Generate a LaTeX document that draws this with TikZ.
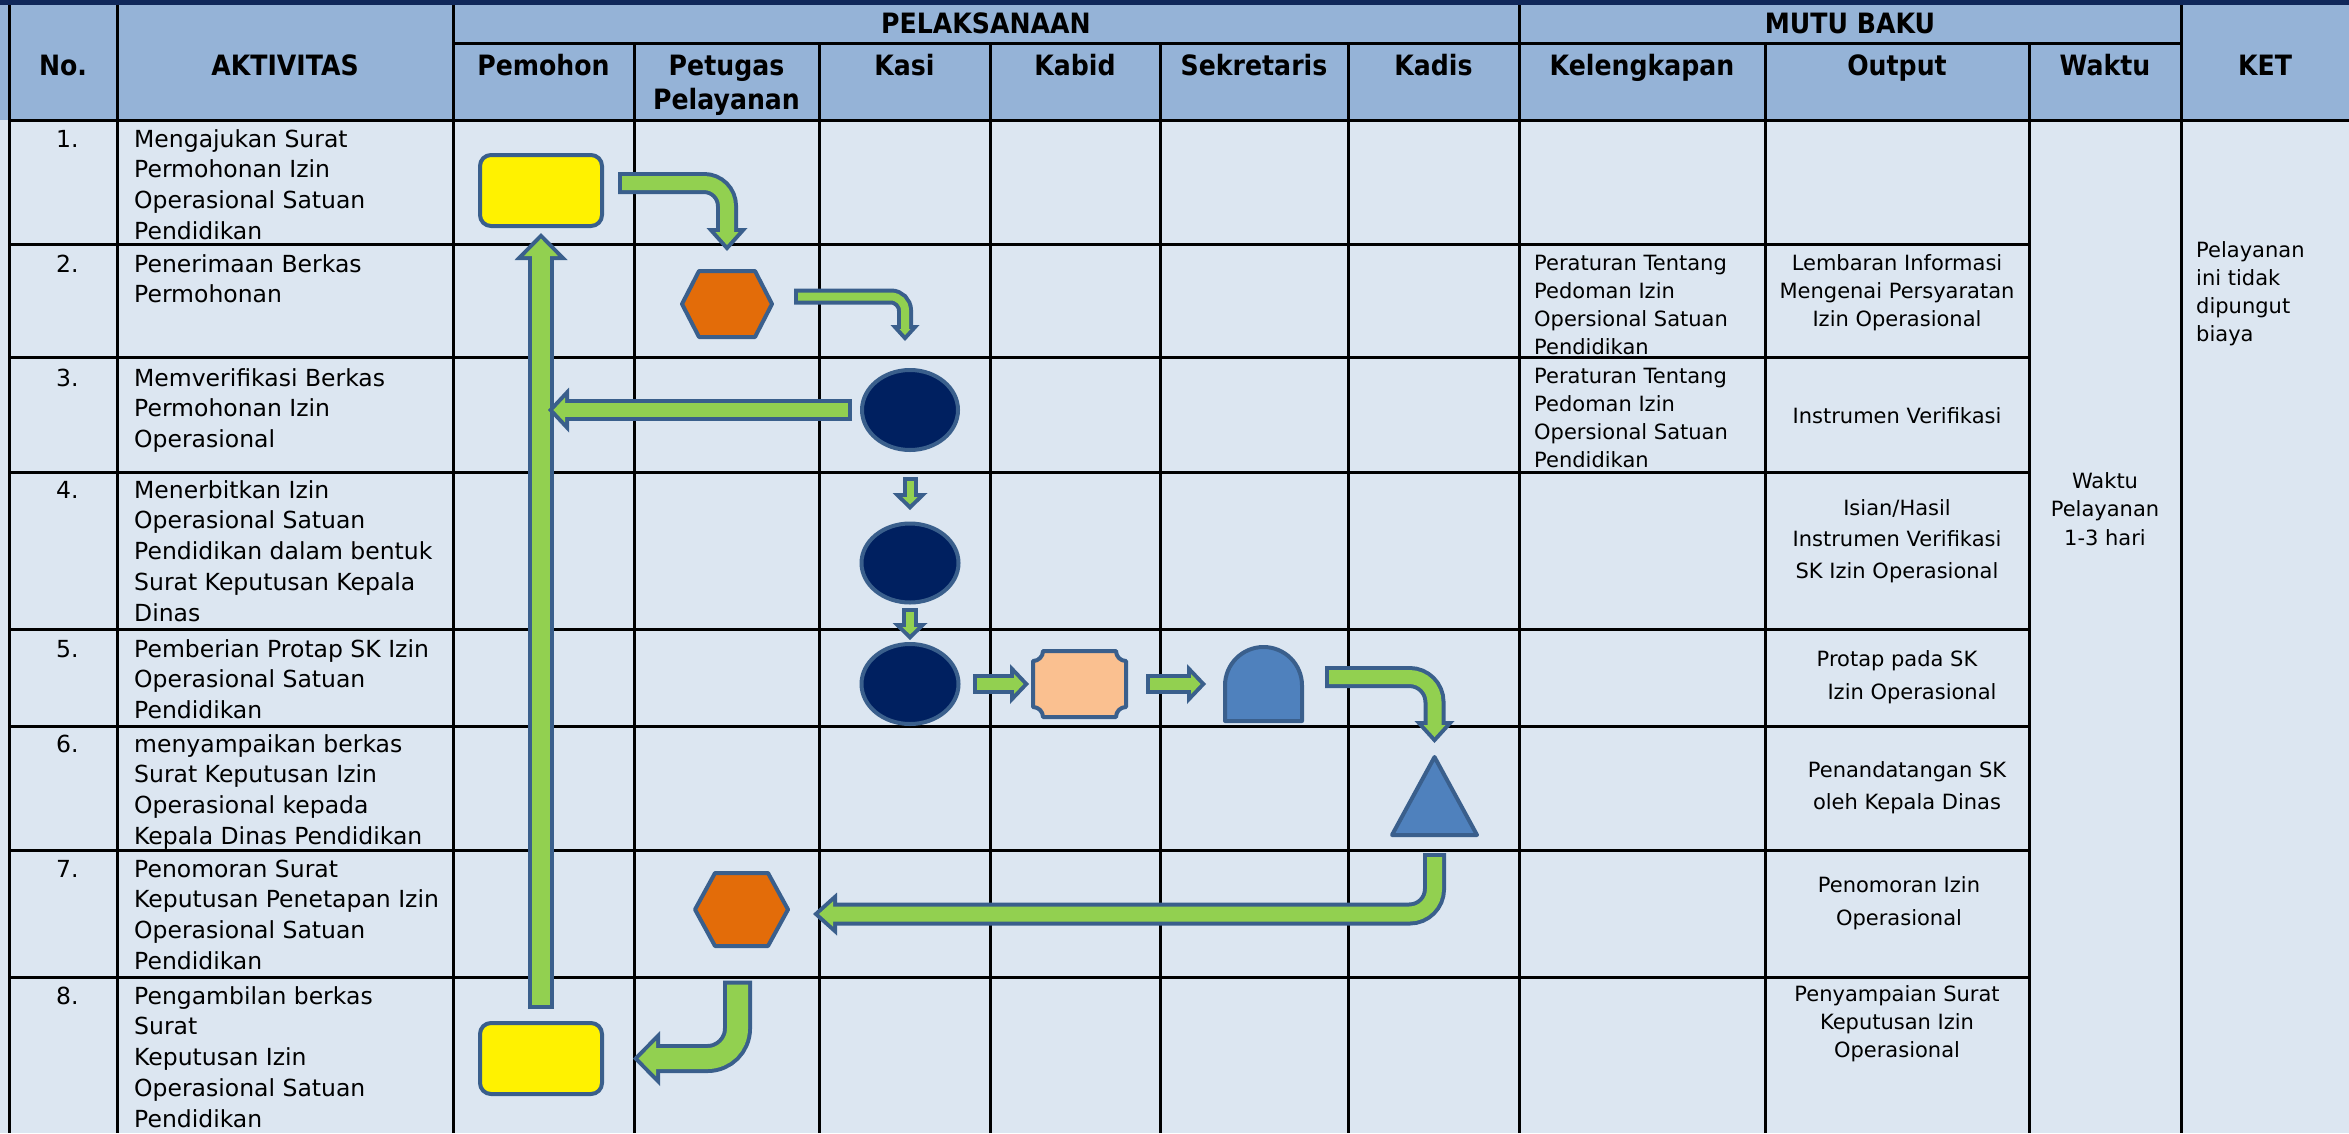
\documentclass[tikz,border=0pt]{standalone}
\usepackage{fontspec}
\setmainfont{DejaVu Sans}
\newfontfamily\headfont[FakeStretch=0.9]{DejaVu Sans}
\usetikzlibrary{arrows.meta,shapes.geometric}

\definecolor{headblue}{HTML}{95B3D7}
\definecolor{bodyblue}{HTML}{DCE6F1}
\definecolor{topnavy}{HTML}{10285A}
\definecolor{edgeblue}{HTML}{3A5F8C}
\definecolor{flowgreen}{HTML}{92D050}
\definecolor{navyfill}{HTML}{002060}
\definecolor{hexorange}{HTML}{E36C09}
\definecolor{peach}{HTML}{FAC090}
\definecolor{midblue}{HTML}{4F81BD}

\tikzstyle{tline} = [line width=3pt, black]
\tikzstyle{blk} = [line width=4pt, draw=edgeblue, line join=round]
\tikzstyle{cellbox} = [rectangle, inner sep=0pt, outer sep=0pt]
\tikzstyle{hdtext} = [font=\headfont\fontsize{28}{34}\selectfont\bfseries, inner sep=0pt, align=center, anchor=north]
\tikzstyle{actext} = [font=\fontsize{23.5}{30.7}\selectfont, inner sep=0pt, align=left, anchor=north west]
\tikzstyle{smtext} = [font=\fontsize{21}{28}\selectfont, inner sep=0pt, align=center, anchor=north]

% outlined block arrow: shaft width, head width, head length, corner radius, path
\newcommand{\blockflow}[5]{%
  \pgfmathsetmacro{\flowiw}{#1-8}%
  \pgfmathsetmacro{\flowtip}{4*sqrt((#2/2)^2+(#3)^2)/(#2/2)}%
  \pgfmathsetmacro{\flowil}{#3-\flowtip-4}%
  \pgfmathsetmacro{\flowih}{\flowil*#2/#3}%
  \draw[edgeblue, line width=#1pt, rounded corners=#4pt,
    -{Triangle[length=#3pt, width=#2pt, line width=0pt]}] #5;
  \draw[flowgreen, line width=\flowiw pt, rounded corners=#4pt,
    shorten <=4pt, shorten >=\flowtip pt,
    -{Triangle[length=\flowil pt, width=\flowih pt, line width=0pt]}] #5;
}

\begin{document}
\begin{tikzpicture}[x=1pt,y=-1pt]
\useasboundingbox (0,0) rectangle (2349,1133);
% background
\fill[bodyblue] (0,0) rectangle (2349,1133);
\fill[headblue] (0,5) rectangle (2349,120);
\fill[topnavy] (0,0) rectangle (2349,5);

% table lines
\draw[tline] (453,43) -- (2181,43);
\draw[tline] (9,120) -- (2349,120);
\foreach \y in {244,357,472,629,726,850,977}
  \draw[tline] (9,\y) -- (2029,\y);
\foreach \x in {9,117,453,1519,2181}
  \draw[tline] (\x,5) -- (\x,1133);
\foreach \x in {634,819,990,1160,1348,1765,2029}
  \draw[tline] (\x,43) -- (\x,1133);

% header
\node[hdtext] (hno) at (63,51.2) {\strut No.};
\node[hdtext] (hakt) at (285,51.2) {\strut AKTIVITAS};
\node[hdtext] (hpel) at (986,9.2) {\strut PELAKSANAAN};
\node[hdtext] (hmutu) at (1850,9.2) {\strut MUTU BAKU};
\foreach \x/\txt [count=\i] in {543.5/Pemohon, 726.5/{Petugas\\Pelayanan}, 904.5/Kasi,
    1075/Kabid, 1254/Sekretaris, 1433.5/Kadis, 1642/Kelengkapan, 1897/Output,
    2105/Waktu, 2265/KET}
  \node[hdtext] (hcol\i) at (\x,51.2) {\strut\txt};

% rows
\foreach \n/\y/\txt in {
  1/147/{Mengajukan Surat\\Permohonan Izin\\Operasional Satuan\\Pendidikan},
  2/272/{Penerimaan Berkas\\Permohonan},
  3/386/{Memverifikasi Berkas\\Permohonan Izin\\Operasional},
  4/498/{Menerbitkan Izin\\Operasional Satuan\\Pendidikan dalam bentuk\\Surat Keputusan Kepala\\Dinas},
  5/657/{Pemberian Protap SK Izin\\Operasional Satuan\\Pendidikan},
  6/752/{menyampaikan berkas\\Surat Keputusan Izin\\Operasional kepada\\Kepala Dinas Pendidikan},
  7/877/{Penomoran Surat\\Keputusan Penetapan Izin\\Operasional Satuan\\Pendidikan},
  8/1004/{Pengambilan berkas\\Surat\\Keputusan Izin\\Operasional Satuan\\Pendidikan}}
{
  \node[actext] (no\n) at (56,\y-21.5) {\strut\n.};
  \node[actext] (act\n) at (134,\y-21.5) {\strut\txt};
}

% mutu baku
\node[smtext, anchor=north west, align=left] (kel2) at (1534,250.4)
  {\strut Peraturan Tentang\\Pedoman Izin\\Opersional Satuan\\Pendidikan};
\node[smtext, anchor=north west, align=left] (kel3) at (1534,363.4)
  {\strut Peraturan Tentang\\Pedoman Izin\\Opersional Satuan\\Pendidikan};
\node[smtext] (out2) at (1897,250.4) {\strut Lembaran Informasi\\Mengenai Persyaratan\\Izin Operasional};
\node[smtext] (out3) at (1897,403.4) {\strut Instrumen Verifikasi};
\node[smtext, font=\fontsize{21}{31.5}\selectfont] (out4) at (1897,493)
  {\strut Isian/Hasil\\Instrumen Verifikasi\\SK Izin Operasional};
\node[smtext, font=\fontsize{21}{33}\selectfont] (out5) at (1897,642.9)
  {\strut Protap pada SK\\\hspace*{30pt}Izin Operasional};
\node[smtext, font=\fontsize{21}{32}\selectfont] (out6) at (1907,754.6)
  {\strut Penandatangan SK\\oleh Kepala Dinas};
\node[smtext, font=\fontsize{21}{33}\selectfont] (out7) at (1899,868.9)
  {\strut Penomoran Izin\\Operasional};
\node[smtext] (out8) at (1897,981.4) {\strut Penyampaian Surat\\Keputusan Izin\\Operasional};
\node[smtext, font=\fontsize{21}{28.5}\selectfont] (waktu) at (2105,468) {\strut Waktu\\Pelayanan\\1-3 hari};
\node[smtext, anchor=north west, align=left] (ket) at (2196,237.4) {\strut Pelayanan\\ini tidak\\dipungut\\biaya};

% flow shapes
\node[cellbox, blk, fill=yellow, rounded corners=11pt, minimum width=122, minimum height=71] (yel1) at (541,190.5) {};
\node[cellbox, blk, fill=yellow, rounded corners=11pt, minimum width=122, minimum height=71] (yel2) at (541,1058.5) {};
\node[cellbox, minimum width=90, minimum height=66] (hex1) at (727,304) {};
\draw[blk, fill=hexorange] ([xshift=17pt]hex1.north west) -- ([xshift=-17pt]hex1.north east) -- (hex1.east)
  -- ([xshift=-17pt]hex1.south east) -- ([xshift=17pt]hex1.south west) -- (hex1.west) -- cycle;
\node[cellbox, minimum width=93, minimum height=73] (hex2) at (741.5,909.5) {};
\draw[blk, fill=hexorange] ([xshift=20pt]hex2.north west) -- ([xshift=-20pt]hex2.north east) -- (hex2.east)
  -- ([xshift=-20pt]hex2.south east) -- ([xshift=20pt]hex2.south west) -- (hex2.west) -- cycle;
\node[ellipse, blk, fill=navyfill, inner sep=0pt, minimum width=96, minimum height=80] (ell1) at (910,410) {};
\node[ellipse, blk, fill=navyfill, inner sep=0pt, minimum width=97, minimum height=79] (ell2) at (910,563) {};
\node[ellipse, blk, fill=navyfill, inner sep=0pt, minimum width=97, minimum height=80] (ell3) at (910,684) {};
\node[cellbox, minimum width=93, minimum height=66] (plq) at (1079.5,684) {};
\draw[blk, fill=peach] ([yshift=-10pt]plq.north west) arc[start angle=270, end angle=360, radius=10pt]
  -- ([xshift=-10pt]plq.north east) arc[start angle=180, end angle=270, radius=10pt]
  -- ([yshift=10pt]plq.south east) arc[start angle=90, end angle=180, radius=10pt]
  -- ([xshift=10pt]plq.south west) arc[start angle=0, end angle=90, radius=10pt] -- cycle;
\node[cellbox, minimum width=77, minimum height=74] (sek) at (1263.5,684) {};
\draw[blk, fill=midblue] (sek.south west) -- ([yshift=-38.5pt]sek.north west)
  arc[start angle=180, end angle=0, radius=38.5pt] -- (sek.south east) -- cycle;
\node[cellbox, minimum width=85, minimum height=78] (kad) at (1434.5,796) {};
\draw[blk, fill=midblue] (kad.north) -- (kad.south east) -- (kad.south west) -- cycle;

% flow arrows
\blockflow{22}{41}{23}{23}{([xshift=16pt,yshift=7.5pt]yel1.east) -| ([yshift=20pt]hex1.north)}
\blockflow{16}{29}{16}{14}{([xshift=22pt,yshift=7.5pt]hex1.east) -| ([xshift=-5pt,yshift=27pt]ell1.north)}
\blockflow{15}{35}{17}{0}{([yshift=-25pt]ell1.south) -- ([yshift=11.5pt]ell2.north)}
\blockflow{16}{35}{17}{0}{([yshift=-3.5pt]ell2.south) -- ([yshift=2pt]ell3.north)}
\blockflow{20}{40}{19}{0}{([xshift=12.5pt]ell3.east) -- ([xshift=-4pt]plq.west)}
\blockflow{20}{40}{19}{0}{([xshift=20pt]plq.east) -- ([xshift=-19pt]sek.west)}
\blockflow{22}{40}{22}{25}{([xshift=23pt,yshift=7pt]sek.east) -| ([yshift=14pt]kad.north)}
\blockflow{23}{43}{24}{25}{([yshift=-18pt]kad.south) |- ([xshift=25pt,yshift=-4.5pt]hex2.east)}
\blockflow{29}{55}{27}{30}{([xshift=-4pt,yshift=-34.5pt]hex2.south) |- ([xshift=31pt]yel2.east)}
\blockflow{26}{53}{27}{0}{([yshift=14pt]yel2.north) -- ([yshift=-7pt]yel1.south)}
\coordinate (join) at (yel1.south |- ell1.west);
\blockflow{22}{45}{21}{0}{([xshift=-8pt]ell1.west) -- ([xshift=7pt]join)}
\end{tikzpicture}
\end{document}
